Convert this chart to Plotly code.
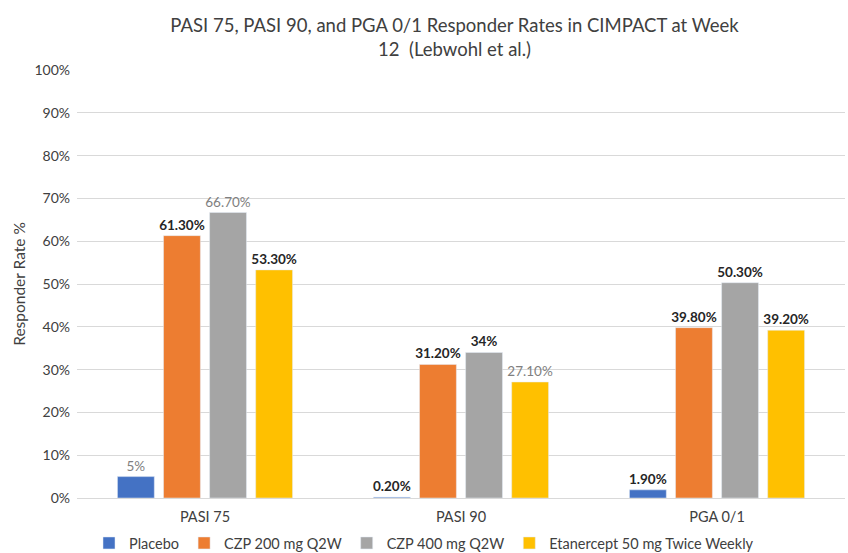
import plotly.graph_objects as go

# Week 12 responder rates (%) by endpoint and treatment arm
categories = ["PASI 75", "PASI 90", "PGA 0/1"]
series_names = ["Placebo", "CZP 200 mg Q2W", "CZP 400 mg Q2W", "Etanercept 50 mg Twice Weekly"]
placebo = [5.0, 0.2, 1.9]
czp200 = [61.3, 31.2, 39.8]
czp400 = [66.7, 34.0, 50.3]
etanercept = [53.3, 27.1, 39.2]
series_values = [placebo, czp200, czp400, etanercept]
colors = ["#4472C4", "#ED7D31", "#A5A5A5", "#FFC000"]
# which data labels are drawn in plain grey instead of bold dark
muted_labels = [[True, False, False], [False, False, False], [True, False, False], [False, True, False]]

y_ticks = list(range(0, 101, 10))
y_tick_labels = [f"{t}%" for t in y_ticks]


def fmt(v):
    return f"{v:.0f}%" if float(v).is_integer() else f"{v:.2f}%"


fig = go.Figure()
for name, vals, col, muted in zip(series_names, series_values, colors, muted_labels):
    texts = [fmt(v) if m else f"<b>{fmt(v)}</b>" for v, m in zip(vals, muted)]
    tcolors = ["#808080" if m else "#262626" for m in muted]
    fig.add_trace(go.Bar(
        name=name, x=categories, y=vals, marker_color=col,
        text=texts, textposition="outside", cliponaxis=False,
        constraintext="none", textangle=0,
        textfont=dict(color=tcolors, size=13.5, family="Lato"),
    ))

fig.update_layout(
    width=848, height=553,
    paper_bgcolor="white", plot_bgcolor="white",
    font=dict(family="Lato", color="#404040"),
    title=dict(
        text="PASI 75, PASI 90, and PGA 0/1 Responder Rates in CIMPACT at Week<br>12  (Lebwohl et al.)",
        x=0.536, xanchor="center", yref="container", y=0.943, yanchor="middle",
        font=dict(size=18.5, color="#404040", family="Lato"),
    ),
    margin=dict(l=77, r=3, t=70, b=55, autoexpand=False),
    barmode="group", bargap=0.28, bargroupgap=0.2,
    showlegend=True,
    legend=dict(
        orientation="h", xref="container", x=0.5, xanchor="center",
        yref="container", y=0.018, yanchor="middle",
        font=dict(size=14.5, color="#404040"), itemwidth=30,
        traceorder="normal",
    ),
)
fig.update_yaxes(
    range=[0, 100], tickvals=y_ticks, ticktext=y_tick_labels,
    showgrid=True, gridcolor="#D9D9D9", gridwidth=1, zeroline=False,
    tickfont=dict(size=14, color="#404040"), ticks="", ticklabelstandoff=6,
    title=dict(text="Responder Rate %", font=dict(size=15.5, color="#404040"), standoff=4),
)
fig.update_xaxes(
    showline=True, linecolor="#D9D9D9", tickfont=dict(size=14.5, color="#404040"),
    ticks="", ticklabelstandoff=6,
)

fig.write_html("out.html")
